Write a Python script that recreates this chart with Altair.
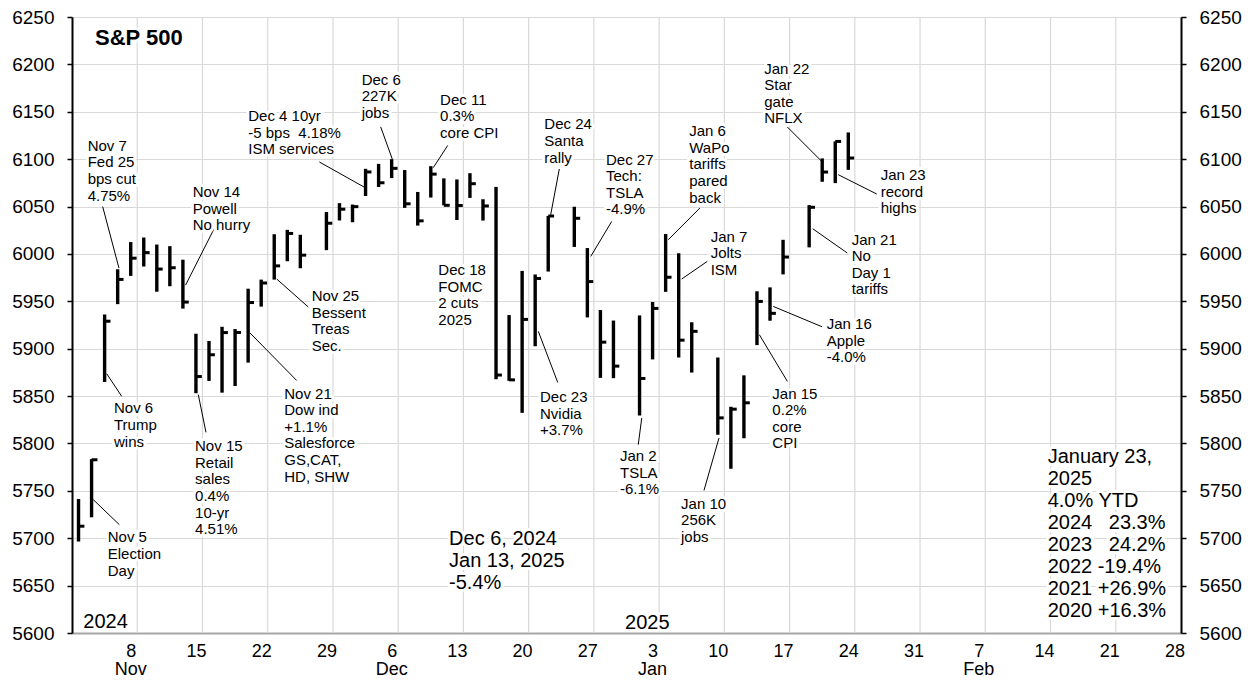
import altair as alt
import numpy as np
import pandas as pd

# ---------------- data ----------------
dates = [
    "2024-11-04", "2024-11-05", "2024-11-06", "2024-11-07", "2024-11-08",
    "2024-11-11", "2024-11-12", "2024-11-13", "2024-11-14", "2024-11-15",
    "2024-11-18", "2024-11-19", "2024-11-20", "2024-11-21", "2024-11-22",
    "2024-11-25", "2024-11-26", "2024-11-27", "2024-11-29",
    "2024-12-02", "2024-12-03", "2024-12-04", "2024-12-05", "2024-12-06",
    "2024-12-09", "2024-12-10", "2024-12-11", "2024-12-12", "2024-12-13",
    "2024-12-16", "2024-12-17", "2024-12-18", "2024-12-19", "2024-12-20",
    "2024-12-23", "2024-12-24", "2024-12-26", "2024-12-27",
    "2024-12-30", "2024-12-31", "2025-01-02", "2025-01-03",
    "2025-01-06", "2025-01-07", "2025-01-08", "2025-01-10",
    "2025-01-13", "2025-01-14", "2025-01-15", "2025-01-16", "2025-01-17",
    "2025-01-21", "2025-01-22", "2025-01-23", "2025-01-24",
]
highs = [
    5741.4, 5783.4, 5936.1, 5983.8, 6012.5,
    6017.3, 6009.9, 6008.2, 5993.9, 5915.8,
    5908.1, 5923.1, 5920.7, 5963.3, 5972.9,
    6020.8, 6025.4, 6020.2, 6044.2,
    6053.6, 6052.1, 6089.8, 6095.0, 6100.0,
    6088.5, 6065.4, 6092.6, 6079.7, 6078.6,
    6085.2, 6057.7, 6070.7, 5935.5, 5982.1,
    5978.3, 6040.1, 6049.8, 6006.2,
    5940.8, 5929.7, 5935.1, 5949.3,
    6021.0, 6000.7, 5927.9, 5890.7,
    5838.7, 5871.9, 5960.6, 5964.7, 6014.9,
    6051.5, 6100.8, 6118.7, 6128.2,
]
lows = [
    5696.5, 5722.1, 5864.9, 5947.0, 5976.8,
    5986.7, 5960.1, 5965.9, 5942.3, 5853.0,
    5866.0, 5853.6, 5860.6, 5885.3, 5944.4,
    5972.9, 5992.3, 5984.9, 6004.0,
    6035.3, 6033.4, 6061.1, 6070.6, 6080.0,
    6048.6, 6029.9, 6059.5, 6051.3, 6035.8,
    6059.1, 6035.2, 5867.8, 5866.1, 5832.3,
    5902.6, 5981.4, 6007.4, 5933.0,
    5869.2, 5868.9, 5829.5, 5888.7,
    5960.0, 5890.7, 5874.8, 5809.2,
    5773.3, 5805.5, 5903.8, 5929.5, 5978.4,
    6006.9, 6076.1, 6074.7, 6088.7,
]
closes = [
    5712.7, 5782.8, 5929.0, 5973.1, 5995.5,
    6001.4, 5984.0, 5985.4, 5949.2, 5870.6,
    5893.6, 5917.0, 5917.1, 5948.7, 5969.3,
    5987.4, 6021.6, 5998.7, 6032.4,
    6047.2, 6049.9, 6086.5, 6075.1, 6090.3,
    6052.9, 6034.9, 6084.2, 6051.3, 6051.1,
    6074.1, 6050.6, 5872.2, 5867.1, 5930.9,
    5974.1, 6040.0, 6037.6, 5970.8,
    5906.9, 5881.6, 5868.6, 5942.5,
    5975.4, 5909.0, 5918.3, 5827.0,
    5836.2, 5842.9, 5949.9, 5937.3, 5996.7,
    6049.2, 6086.4, 6118.7, 6101.2,
]

tick_labels = ["8", "15", "22", "29", "6", "13", "20", "27", "3", "10",
               "17", "24", "31", "7", "14", "21", "28"]
tick_dates = ["2024-11-08", "2024-11-15", "2024-11-22", "2024-11-29",
              "2024-12-06", "2024-12-13", "2024-12-20", "2024-12-27",
              "2025-01-03", "2025-01-10", "2025-01-17", "2025-01-24",
              "2025-01-31", "2025-02-07", "2025-02-14", "2025-02-21",
              "2025-02-28"]
month_labels = ["Nov", "Dec", "Jan", "Feb"]
month_dates = ["2024-11-08", "2024-12-06", "2025-01-03", "2025-02-07"]
y_ticks = list(range(5600, 6251, 50))

# annotations: text, anchor slot, anchor price (top-left of the text block)
note_texts = [
    "Nov 7\nFed 25\nbps cut\n4.75%",
    "Nov 14\nPowell\nNo hurry",
    "Dec 4 10yr\n-5 bps\u00a0 4.18%\nISM services",
    "Dec 6\n227K\njobs",
    "Dec 11\n0.3%\ncore CPI",
    "Dec 24\nSanta\nrally",
    "Dec 27\nTech:\nTSLA\n-4.9%",
    "Dec 18\nFOMC\n2 cuts\n2025",
    "Nov 25\nBessent\nTreas\nSec.",
    "Nov 21\nDow ind\n+1.1%\nSalesforce\nGS,CAT,\nHD, SHW",
    "Nov 6\nTrump\nwins",
    "Nov 5\nElection\nDay",
    "Nov 15\nRetail\nsales\n0.4%\n10-yr\n4.51%",
    "Dec 23\nNvidia\n+3.7%",
    "Jan 2\nTSLA\n-6.1%",
    "Jan 6\nWaPo\ntariffs\npared\nback",
    "Jan 7\nJolts\nISM",
    "Jan 22\nStar\ngate\nNFLX",
    "Jan 23\nrecord\nhighs",
    "Jan 21\nNo\nDay 1\ntariffs",
    "Jan 16\nApple\n-4.0%",
    "Jan 15\n0.2%\ncore\nCPI",
    "Jan 10\n256K\njobs",
]
note_x = [0.70, 8.75, 13.01, 21.70, 27.71, 35.70, 40.43, 27.58, 17.87, 15.77,
          2.72, 2.24, 8.93, 35.37, 41.50, 46.81, 48.45, 52.56, 61.48, 59.26,
          57.35, 53.18, 46.18]
note_y = [6121.4, 6072.8, 6153.0, 6191.4, 6170.3, 6144.0, 6107.0, 5990.2, 5962.8, 5860.1,
          5844.3, 5708.2, 5804.5, 5856.5, 5794.0, 6136.9, 6025.4, 6203.0, 6090.5, 6022.6,
          5933.2, 5860.1, 5744.0]

# leader lines: from text (sx, sy) to bar (ex, ey), in slot / price units
lead_sx = [1.85, 10.41, 18.46, 23.16, 28.30, 36.85, 40.87, 17.61, 16.72, 3.31,
           3.13, 9.77, 36.73, 42.90, 47.63, 48.19, 54.33, 61.18, 58.92, 56.98,
           54.33, 47.94]
lead_sy = [6050.0, 6027.0, 6097.0, 6134.0, 6114.5, 6089.6, 6034.3, 5944.0, 5866.5, 5849.7,
           5714.3, 5811.7, 5864.4, 5798.7, 6048.5, 5992.1, 6133.9, 6063.2, 6001.0, 5923.2,
           5865.5, 5750.5]
lead_ex = [3.10, 8.20, 21.96, 24.05, 27.19, 36.19, 39.26, 15.19, 13.14, 2.16,
           1.13, 9.18, 35.24, 43.17, 45.20, 46.23, 57.04, 58.23, 56.27, 53.25,
           52.18, 49.09]
lead_ey = [5985.0, 5967.0, 6070.0, 6100.0, 6091.0, 6041.4, 5997.4, 5973.5, 5916.6, 5873.6,
           5740.7, 5851.5, 5918.3, 5826.9, 6015.0, 5973.5, 6096.6, 6083.6, 6026.6, 5944.6,
           5914.8, 5805.8]

big_texts = ["2024", "2025", "Dec 6, 2024\nJan 13, 2025\n-5.4%",
             "January 23,\n2025\n4.0% YTD\n2024\u00a0\u00a0 23.3%\n2023\u00a0\u00a0 24.2%\n"
             "2022 -19.4%\n2021 +26.9%\n2020 +16.3%"]
big_x = [0.37, 41.89, 28.40, 74.28]
big_y = [5622.4, 5621.3, 5709.3, 5796.2]

title_text = ["S&P 500"]
title_x = [1.26]
title_y = [6238.3]

# ---------------- build ----------------
FIRST = "2024-11-04"
LAST = "2025-02-28"


def slot(d):
    return int(np.busday_count(FIRST, d))


n_slots = slot(LAST) + 1
tick_pos = [slot(d) for d in tick_dates]
grid_pos = [p + 0.5 for p in tick_pos[:-1]]

df = pd.DataFrame({"slot": [slot(d) for d in dates], "high": highs,
                   "low": lows, "close": closes})
notes = pd.DataFrame({"x": note_x, "y": note_y, "t": note_texts})
leads = pd.DataFrame({"sx": lead_sx, "sy": lead_sy, "ex": lead_ex, "ey": lead_ey})
bigs = pd.DataFrame({"x": big_x, "y": big_y, "t": big_texts})
titles = pd.DataFrame({"x": title_x, "y": title_y, "t": title_text})
months = pd.DataFrame({"slot": [slot(d) for d in month_dates], "m": month_labels})

FONT = "Liberation Sans, Arial, sans-serif"
xs = alt.Scale(domain=[-0.5, n_slots - 0.5], nice=False, zero=False)
ys = alt.Scale(domain=[5600, 6250], nice=False, zero=False)

label_arr = "[" + ",".join("'%s'" % t for t in tick_labels) + "]"
x_axis = alt.Axis(
    values=tick_pos,
    labelExpr=label_arr + "[round((datum.value - %d) / 5)]" % tick_pos[0],
    title=None, grid=False, ticks=False, tickSize=0,
    domainColor="#a6a6a6", domainWidth=2,
    labelFont=FONT, labelFontSize=18, labelColor="black", labelPadding=9,
    labelFlush=False, labelOverlap=False, labelAngle=0,
)


def X(field):
    return alt.X(field, scale=xs, axis=x_axis)


def y_axis(orient, grid):
    return alt.Axis(
        orient=orient, values=y_ticks, format="d", title=None, grid=grid,
        gridColor="#d9d9d9", gridWidth=1.2,
        domainColor="black", domainWidth=2,
        tickColor="black", tickSize=5, tickWidth=1.5,
        labelFont=FONT, labelFontSize=19, labelColor="black", labelPadding=13,
        labelFlush=False, labelOverlap=False,
    )


vgrid = alt.Chart(pd.DataFrame({"g": grid_pos})).mark_rule(
    color="#d9d9d9", strokeWidth=1.2
).encode(x=X("g:Q"))

hl = alt.Chart(df).mark_rule(color="black", strokeWidth=3.4).encode(
    x=X("slot:Q"),
    y=alt.Y("low:Q", scale=ys, axis=y_axis("left", True)),
    y2="high:Q",
)

ct = alt.Chart(df).transform_calculate(tip="datum.slot + 0.45").mark_rule(
    color="black", strokeWidth=3
).encode(
    x=X("slot:Q"),
    x2="tip:Q",
    y=alt.Y("close:Q", scale=ys, axis=y_axis("right", False)),
)

lead = alt.Chart(leads).mark_rule(color="black", strokeWidth=1).encode(
    x=X("sx:Q"), x2="ex:Q",
    y=alt.Y("sy:Q", scale=ys, axis=None), y2="ey:Q",
)


def text_layers(data, size, lh, bold=False):
    common = dict(align="left", baseline="top", font=FONT, fontSize=size,
                  lineHeight=lh, lineBreak="\n",
                  fontWeight="bold" if bold else "normal")
    enc = dict(x=X("x:Q"), y=alt.Y("y:Q", scale=ys, axis=None), text="t:N")
    halo = alt.Chart(data).mark_text(color="white", stroke="white",
                                     strokeWidth=6, strokeJoin="round",
                                     **common).encode(**enc)
    txt = alt.Chart(data).mark_text(color="black", **common).encode(**enc)
    return [halo, txt]


month_layer = alt.Chart(months).mark_text(
    align="center", baseline="middle", font=FONT, fontSize=18, color="black"
).encode(x=X("slot:Q"), y=alt.value(653), text="m:N")

layers = [vgrid, hl, ct, lead]
layers += text_layers(notes, 15, 16.6)
layers += text_layers(bigs, 20, 22)
layers += text_layers(titles, 22, 24, bold=True)
layers += [month_layer]

chart = alt.layer(*layers).resolve_axis(y="independent").properties(
    width=1109, height=616,
    autosize=alt.AutoSizeParams(type="none"),
    padding={"left": 64, "top": 9, "right": 70, "bottom": 48},
    background="white",
).configure_view(stroke=None)

chart.save("out.html", embed_options={"renderer": "svg", "actions": False})
